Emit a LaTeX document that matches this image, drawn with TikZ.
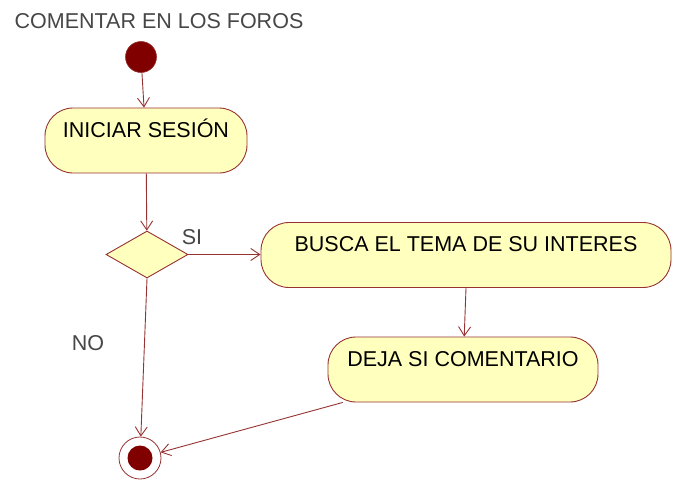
\documentclass[tikz,border=0pt]{standalone}
\usepackage{fontspec}
\setmainfont{Liberation Sans}
\usetikzlibrary{arrows.meta,shapes.geometric}
\definecolor{umlline}{RGB}{150,50,50}
\definecolor{umlfill}{RGB}{255,255,190}
\definecolor{umldot}{RGB}{128,0,0}
\definecolor{labgray}{RGB}{70,70,70}
\tikzset{
  txt/.style={font=\fontsize{21.5}{24}\selectfont, inner sep=0pt},
  actbox/.style={txt, draw=umlline, fill=umlfill, line width=0.9pt, rounded corners=28pt,
    text height=29pt, text depth=36pt, text=black},
  flow/.style={draw=umlline, line width=0.9pt, -{Straight Barb[length=9pt,width=12pt,line width=0.9pt]}},
  lab/.style={txt, text=labgray}
}
\begin{document}
\begin{tikzpicture}[x=1pt,y=-1pt]
\useasboundingbox (0,0) rectangle (684,479);
\node[lab] (title) at (159,21) {COMENTAR EN LOS FOROS};
\node[circle, fill=umldot, draw=umlline, line width=0.6pt, minimum size=31pt, inner sep=0pt] (init) at (141,57) {};
\node[actbox, minimum width=202pt] (inic) at (146,140.5) {INICIAR SESIÓN};
\node[diamond, draw=umlline, fill=umlfill, line width=0.9pt, minimum width=82pt, minimum height=47pt, inner sep=0pt] (dec) at (147,254.5) {};
\node[lab] (si) at (192,237) {SI};
\node[actbox, minimum width=410pt] (busca) at (466,255) {BUSCA EL TEMA DE SU INTERES};
\node[actbox, minimum width=270pt] (deja) at (463,369.5) {DEJA SI COMENTARIO};
\node[lab] (no) at (88,343) {NO};
\node[circle, draw=umlline, fill=white, line width=0.8pt, minimum size=42pt, inner sep=0pt] (fin) at (140,458) {};
\node[circle, fill=umldot, minimum size=25pt, inner sep=0pt] (fininner) at (fin.center) {};
\draw[flow] (init) -- (inic);
\draw[flow] (inic) -- (dec);
\draw[flow] (dec.east) -- (busca.west |- dec.east);
\draw[flow] (busca.south) -- (deja);
\draw[flow] (dec.south) -- (fin);
\draw[flow] (deja) -- (fin);
\end{tikzpicture}
\end{document}
